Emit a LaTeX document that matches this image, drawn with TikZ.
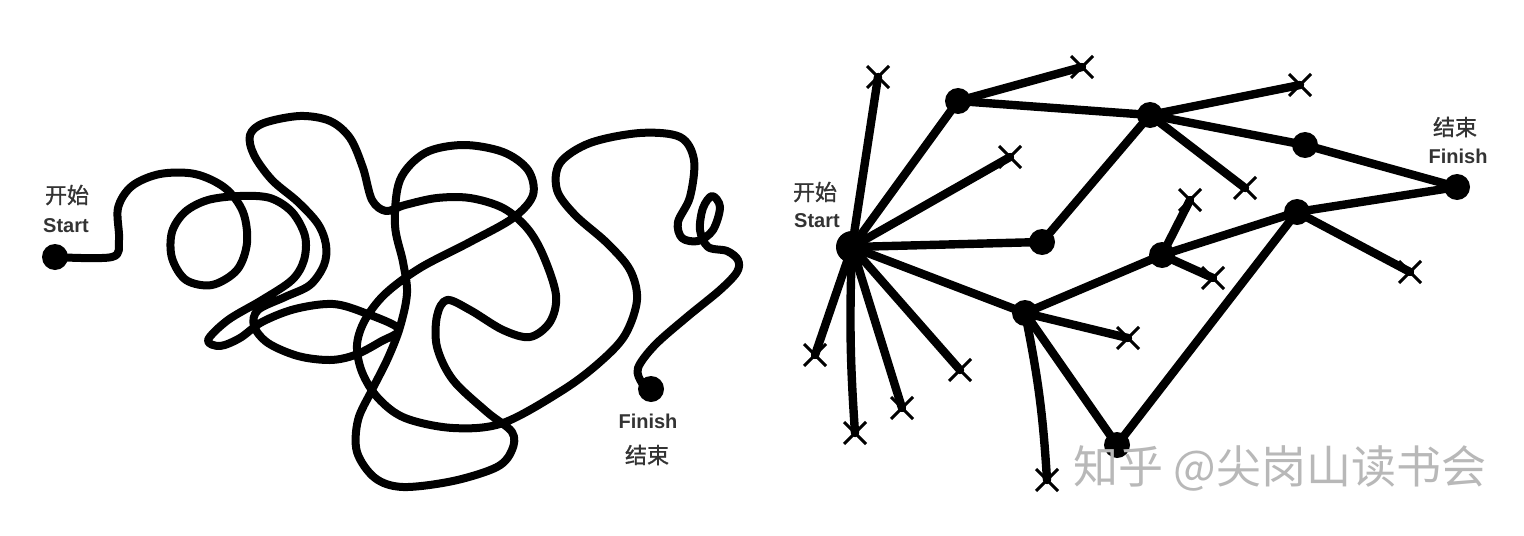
\documentclass[tikz,border=0pt]{standalone}
\usepackage{fontspec}
\setmainfont{Liberation Sans}
\newfontfamily\cjk{Noto Sans CJK SC}
\newfontfamily\cjkb[FakeBold=1.2]{Noto Sans CJK SC}
\usetikzlibrary{shapes.misc}
\begin{document}
\begin{tikzpicture}[x=0.5pt,y=-0.5pt,
  dot/.style={circle,fill=black,inner sep=0pt,minimum size=13pt},
  hub/.style={dot,minimum size=16pt},
  xmark/.style={cross out,draw=black,line width=1.5pt,inner sep=0pt,minimum size=9.5pt},
  tangle/.style={line width=4pt,line cap=round,line join=round},
  edge/.style={line width=4.2pt,line cap=round},
  lbl/.style={text=black!80,font=\bfseries\fontsize{10}{12}\selectfont,inner sep=0pt},
  clbl/.style={text=black!80,font=\cjkb\fontsize{11}{12}\selectfont,inner sep=0pt},
  wm/.style={text=black!28,font=\cjk\fontsize{22.5}{26}\selectfont,inner sep=0pt}]
\useasboundingbox (0,0) rectangle (1524,535);
\fill[white] (0,0) rectangle (1524,535);

% ---------- left: tangled path ----------
\node[dot] (ls) at (55,257) {};
\node[dot] (lf) at (651,389) {};
\node[clbl] (lsc) at (67,195) {开始};
\node[lbl]  (lse) at (66,226) {Start};
\node[lbl]  (lfe) at (648,421) {Finish};
\node[clbl] (lfc) at (647,455) {结束};

\draw[tangle] plot[smooth,tension=0.55] coordinates {
 (ls.center) (112,257) (119,240) (118,208) (132,186) (160,174) (195,174)
 (225,188) (243,212) (247,243) (237,270) (212,285) (186,280) (172,258)
 (172,232) (185,212) (208,200) (240,196) (270,198) (292,212) (305,236)
 (304,260) (292,280) (262,300) (228,320) (208,340) (220,346) (240,338)
 (262,322) (295,309) (333,304) (365,313) (399,329) (380,342) (355,355)
 (330,360) (298,356) (268,343) (254,326) (258,310) (285,297) (310,285)
 (324,265) (326,245) (318,224) (298,202) (272,180) (254,155) (250,135)
 (264,123) (300,116) (330,121) (350,138) (363,168) (372,200) (386,211)
 (405,205) (437,198) (470,198) (503,208) (527,228) (543,255) (556,295)
 (550,322) (530,337) (503,330) (470,310) (447,300) (437,316) (437,347)
 (453,380) (487,412) (512,432) (512,450) (497,467) (453,481) (403,487)
 (375,478) (357,452) (358,420) (372,390) (388,358) (400,327) (407,293)
 (403,262) (395,225) (400,180) (425,153) (463,145) (503,152) (528,170)
 (533,195) (513,218) (470,242) (420,268) (385,294) (365,320) (357,345)
 (362,372) (378,398) (405,418) (453,428) (503,423) (563,390) (600,362)
 (625,335) (637,300) (630,270) (607,243) (575,215) (557,190) (560,163)
 (590,143) (640,133) (680,137) (694,160) (690,197) (678,222) (682,238)
 (698,241) (713,230) (720,207) (712,196) (703,208) (700,230) (708,247)
 (727,251) (738,260) (737,272) (720,290) (687,317) (655,345) (638,368)
 (642,383) (lf.center)};

% ---------- right: network ----------
\node[hub] (S)  at (852,247) {};
\node[dot] (N1) at (958,101) {};
\node[dot] (N2) at (1150,115) {};
\node[dot] (N3) at (1305,145) {};
\node[dot] (F)  at (1457,187) {};
\node[dot] (N4) at (1042,242) {};
\node[dot] (N5) at (1162,255) {};
\node[dot] (N6) at (1297,212) {};
\node[dot] (N7) at (1025,313) {};
\node[dot] (N8) at (1117,445) {};

\node[clbl] (rsc) at (815,192) {开始};
\node[lbl]  (rse) at (817,221) {Start};
\node[clbl] (rfc) at (1455,127) {结束};
\node[lbl]  (rfe) at (1458,156) {Finish};

\node[xmark] (x1)  at (878,77) {};
\node[xmark] (x2)  at (1082,67) {};
\node[xmark] (x3)  at (1300,85) {};
\node[xmark] (x4)  at (1245,188) {};
\node[xmark] (x5)  at (1010,157) {};
\node[xmark] (x6)  at (1190,200) {};
\node[xmark] (x7)  at (1213,278) {};
\node[xmark] (x8)  at (1128,338) {};
\node[xmark] (x9)  at (1047,480) {};
\node[xmark] (x10) at (1410,272) {};
\node[xmark] (x11) at (815,355) {};
\node[xmark] (x12) at (855,433) {};
\node[xmark] (x13) at (902,408) {};
\node[xmark] (x14) at (960,370) {};

\draw[edge] (S.center) -- (N1.center);
\draw[edge] (S.center) -- (N4.center);
\draw[edge] (S.center) -- (N7.center);
\draw[edge] (N1.center) -- (N2.center);
\draw[edge] (N2.center) -- (N3.center);
\draw[edge] (N3.center) -- (F.center);
\draw[edge] (N4.center) -- (N2.center);
\draw[edge] (N7.center) -- (N5.center);
\draw[edge] (N5.center) -- (N6.center);
\draw[edge] (N6.center) -- (F.center);
\draw[edge] (N7.center) -- (N8.center);
\draw[edge] (N8.center) -- (N6.center);

\draw[edge] (S.center) -- (x1.center);
\draw[edge] (N1.center) -- (x2.center);
\draw[edge] (N2.center) -- (x3.center);
\draw[edge] (N2.center) -- (x4.center);
\draw[edge] (S.center) -- (x5.center);
\draw[edge] (N5.center) -- (x6.center);
\draw[edge] (N5.center) -- (x7.center);
\draw[edge] (N7.center) -- (x8.center);
\draw[edge] (N7.center) to[bend left=4] (x9.center);
\draw[edge] (N6.center) -- (x10.center);
\draw[edge] (S.center) -- (x11.center);
\draw[edge] (S.center) to[bend right=3] (x12.center);
\draw[edge] (S.center) -- (x13.center);
\draw[edge] (S.center) -- (x14.center);

% watermark
\node[wm] (wm) at (1280,468) {知乎 @尖岗山读书会};
\end{tikzpicture}
\end{document}
